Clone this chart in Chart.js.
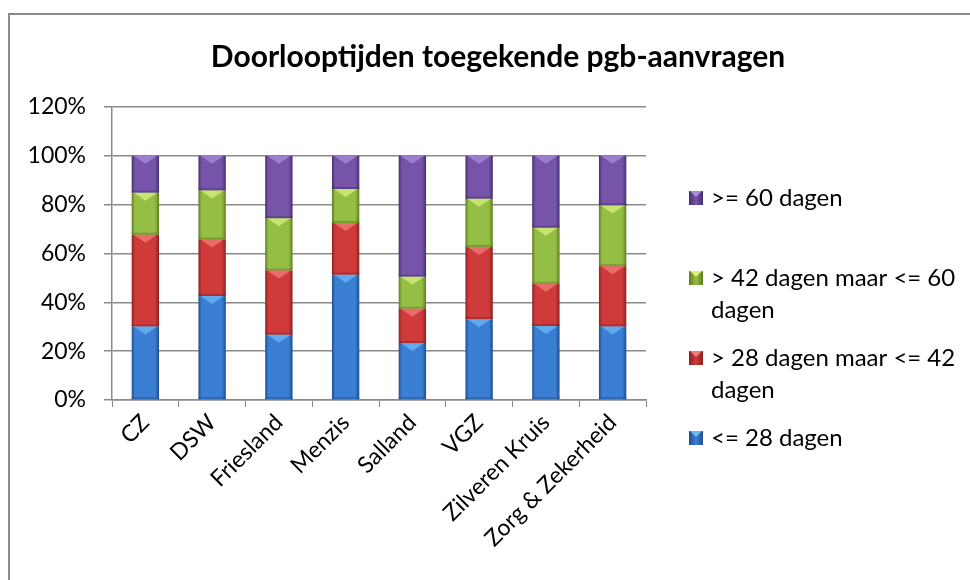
<!DOCTYPE html>
<html><head><meta charset="utf-8">
<script src="https://cdn.jsdelivr.net/npm/chart.js@4"></script>
<style>html,body{margin:0;padding:0;background:#fff}#wrap{width:970px;height:580px;position:relative}</style>
</head><body><div id="wrap"><canvas id="c" width="970" height="580"></canvas></div>
<script>
const categories = ['CZ','DSW','Friesland','Menzis','Salland','VGZ','Zilveren Kruis','Zorg & Zekerheid'];
const titleText = 'Doorlooptijden toegekende pgb-aanvragen';
const seriesLabels = ['<= 28 dagen', '> 28 dagen maar <= 42 dagen', '> 42 dagen maar <= 60 dagen', '>= 60 dagen'];
const upTo28 = [30.1, 42.6, 26.7, 51.3, 23.3, 33.1, 30.3, 30.1];
const from28to42 = [37.6, 23.1, 26.3, 21.2, 14.1, 29.6, 17.3, 24.7];
const from42to60 = [17.2, 20.1, 21.4, 13.9, 13.1, 19.7, 22.9, 24.9];
const from60 = [15.1, 14.2, 25.6, 13.6, 49.5, 17.6, 29.5, 20.3];
const yTicks = [0, 20, 40, 60, 80, 100, 120];

const FONT = 'Lato, "Liberation Sans", sans-serif';
const palette = [
  {edge:'#1f4f8f', mid:'#3a7fd3', hi:'#6fb8f5'},
  {edge:'#8c2222', mid:'#cf3a3a', hi:'#f37c7c'},
  {edge:'#5f7d22', mid:'#95bf44', hi:'#d8f27c'},
  {edge:'#47306e', mid:'#7654aa', hi:'#ab8cda'}
];
const BAR_PCT = 0.41;

function barFill(p) {
  return (ctx) => {
    const chart = ctx.chart, xs = chart.scales.x;
    if (!xs || !chart.chartArea || xs.getPixelForValue(0) === undefined) return p.mid;
    const cx = xs.getPixelForValue(ctx.dataIndex);
    const half = xs.width / categories.length * BAR_PCT / 2;
    const g = chart.ctx.createLinearGradient(cx - half, 0, cx + half, 0);
    g.addColorStop(0, p.edge); g.addColorStop(0.12, p.mid);
    g.addColorStop(0.85, p.mid); g.addColorStop(1, p.edge);
    return g;
  };
}

const seriesValues = [upTo28, from28to42, from42to60, from60];
const datasets = seriesValues.map((vals, i) => ({
  label: seriesLabels[i], data: vals,
  backgroundColor: barFill(palette[i]), borderWidth: 0,
  barPercentage: BAR_PCT, categoryPercentage: 1
}));

const decor = {
  id: 'decor',
  beforeDraw(chart) {
    const c = chart.ctx;
    c.save();
    c.fillStyle = '#fff'; c.fillRect(0, 0, chart.width, chart.height);
    c.strokeStyle = '#8a8a8a'; c.lineWidth = 2;
    c.beginPath(); c.moveTo(9, 580); c.lineTo(9, 14); c.lineTo(970, 14); c.stroke();
    c.restore();
  },
  afterDatasetsDraw(chart) {
    const c = chart.ctx;
    c.save();
    chart.data.datasets.forEach((ds, di) => {
      const meta = chart.getDatasetMeta(di);
      meta.data.forEach(el => {
        const {x, y, base, width} = el.getProps(['x','y','base','width'], true);
        const h = Math.abs(base - y), l = x - width/2, r = x + width/2;
        const th = Math.min(8, h/2);
        c.fillStyle = palette[di].hi; c.globalAlpha = 0.75;
        c.beginPath(); c.moveTo(l+2, y); c.lineTo(r-2, y); c.lineTo(x, y + th); c.closePath(); c.fill();
        c.globalAlpha = 0.5; c.fillStyle = palette[di].edge;
        c.fillRect(l, base - 2, width, 2);
        c.globalAlpha = 1;
      });
    });
    c.restore();
  },
  afterDraw(chart) {
    const c = chart.ctx;
    c.save();
    c.fillStyle = '#000';
    c.font = 'bold 30px ' + FONT;
    c.textAlign = 'center'; c.textBaseline = 'middle';
    c.fillText(titleText, 498, 57);
    // legend
    c.font = '24px ' + FONT;
    c.textAlign = 'left';
    const items = chart.data.datasets.map((d, i) => ({label: d.label, p: palette[i]})).reverse();
    const maxW = 970 - 711 - 4;
    items.forEach((it, k) => {
      const y0 = 198 + k * 80;
      const words = it.label.split(' ');
      const lines = []; let cur = '';
      words.forEach(w => {
        const t = cur ? cur + ' ' + w : w;
        if (c.measureText(t).width > maxW && cur) { lines.push(cur); cur = w; } else cur = t;
      });
      lines.push(cur);
      const g = c.createLinearGradient(689, 0, 703, 0);
      g.addColorStop(0, it.p.edge); g.addColorStop(0.5, it.p.mid); g.addColorStop(1, it.p.edge);
      c.fillStyle = g; c.fillRect(689, y0 - 7, 14, 14);
      c.fillStyle = it.p.hi;
      c.beginPath(); c.moveTo(690, y0 - 7); c.lineTo(702, y0 - 7); c.lineTo(696, y0 - 1); c.closePath(); c.fill();
      c.fillStyle = '#000';
      lines.forEach((ln, j) => c.fillText(ln, 711, y0 + j * 32));
    });
    c.restore();
  }
};

new Chart(document.getElementById('c'), {
  type: 'bar',
  data: { labels: categories, datasets },
  options: {
    responsive: false, animation: false, devicePixelRatio: 1,
    layout: { padding: { left: 0, top: 107, right: 324, bottom: 0 } },
    plugins: { legend: { display: false }, title: { display: false }, tooltip: { enabled: false } },
    scales: {
      x: {
        stacked: true,
        afterFit(s) { s.height = 180; },
        grid: { display: true, drawOnChartArea: false, drawTicks: true, tickLength: 7, color: '#8a8a8a', offset: true },
        border: { color: '#8a8a8a', width: 1.5 },
        ticks: { color: '#000', font: { family: FONT, size: 23 }, maxRotation: 45, minRotation: 45, padding: 2, autoSkip: false }
      },
      y: {
        stacked: true, min: 0, max: 120,
        afterFit(s) { s.width = 112; },
        afterBuildTicks(s) { s.ticks = yTicks.map(v => ({value: v})); },
        grid: { color: '#8a8a8a', lineWidth: 1.5, tickLength: 8 },
        border: { color: '#8a8a8a', width: 1.5 },
        ticks: { color: '#000', font: { family: FONT, size: 23 }, padding: 18, callback: v => v + '%' }
      }
    }
  },
  plugins: [decor]
});
</script></body></html>
